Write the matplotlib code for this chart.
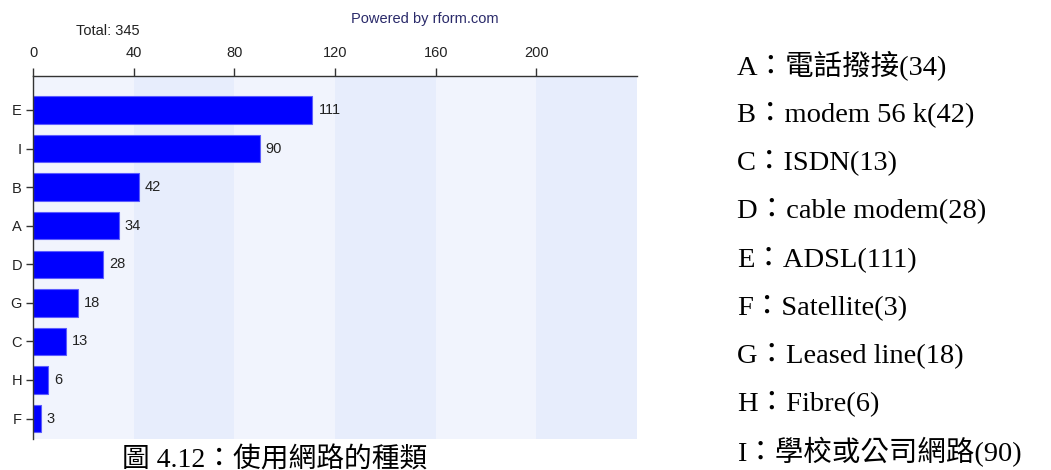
import matplotlib
matplotlib.use('Agg')
import matplotlib.pyplot as plt

# survey answers: type of network connection
codes = ['E', 'I', 'B', 'A', 'D', 'G', 'C', 'H', 'F']
counts = [111, 90, 42, 34, 28, 18, 13, 6, 3]
total = 345
xticks = [0, 40, 80, 120, 160, 200]

legend_codes = ['A', 'B', 'C', 'D', 'E', 'F', 'G', 'H', 'I']
legend_names = ['電話撥接', 'modem 56 k', 'ISDN', 'cable modem', 'ADSL',
                'Satellite', 'Leased line', 'Fibre', '學校或公司網路']
legend_counts = [34, 42, 13, 28, 111, 3, 18, 6, 90]

caption = '圖 4.12：使用網路的種類'

W, H = 1051, 470
small = dict(fontsize=10.5, family='Liberation Sans', color='#222222')

fig = plt.figure(figsize=(W / 100, H / 100), dpi=100)
ax = fig.add_axes([33 / W, 1 - 439 / H, (637 - 33) / W, (439 - 76) / H])

# alternating column shading every 40 units
for i, x0 in enumerate(range(0, 240, 40)):
    ax.axvspan(x0, x0 + 40, color='#f1f4fd' if i % 2 == 0 else '#e7edfc',
               lw=0, zorder=0)

ypos = list(range(len(codes)))
ax.barh(ypos, counts, height=0.71, color='#0000ff', edgecolor='#5c5cff',
        linewidth=0.8, zorder=2)
for y, v in zip(ypos, counts):
    ax.text(v + 2.4, y, str(v), va='center', ha='left', **small)

ax.set_xlim(0, 240)
ax.set_ylim(8.53, -0.88)
ax.set_yticks(ypos)
ax.set_yticklabels(codes)
ax.set_xticks(xticks)
ax.tick_params(axis='x', which='both', bottom=False, labelbottom=False,
               top=True, labeltop=True, direction='out', length=5.5, width=1,
               color='#333333', labelsize=10.5, labelcolor='#222222', pad=6)
ax.tick_params(axis='y', which='both', right=False, left=True,
               direction='out', length=5, width=1, color='#333333',
               labelsize=10.5, labelcolor='#222222', pad=3)
ax.minorticks_off()
for lab in ax.get_xticklabels() + ax.get_yticklabels():
    lab.set_family('Liberation Sans')
for side in ['right', 'bottom']:
    ax.spines[side].set_visible(False)
for side in ['left', 'top']:
    ax.spines[side].set_color('#333333')
    ax.spines[side].set_linewidth(1)

fig.text(108 / W, 1 - 31 / H, 'Total: %d' % total, ha='center', va='center',
         **small)
fig.text(351 / W, 1 - 19 / H, 'Powered by rform.com', ha='left', va='center',
         fontsize=10.5, family='Liberation Sans', color='#2a2a6a')

# category key on the right
key_font = ['Liberation Serif', 'Noto Sans CJK TC']
for i, (c, n, v) in enumerate(zip(legend_codes, legend_names, legend_counts)):
    y = 66 + i * 48.2
    fig.text(737 / W, 1 - y / H, '%s：%s(%d)' % (c, n, v), ha='left',
             va='center', fontsize=20.5, family=key_font, color='black')

fig.text(275 / W, 1 - 448 / H, caption, ha='center', va='top',
         fontsize=20, family=key_font, color='black')

fig.savefig('out.png', dpi=100)
